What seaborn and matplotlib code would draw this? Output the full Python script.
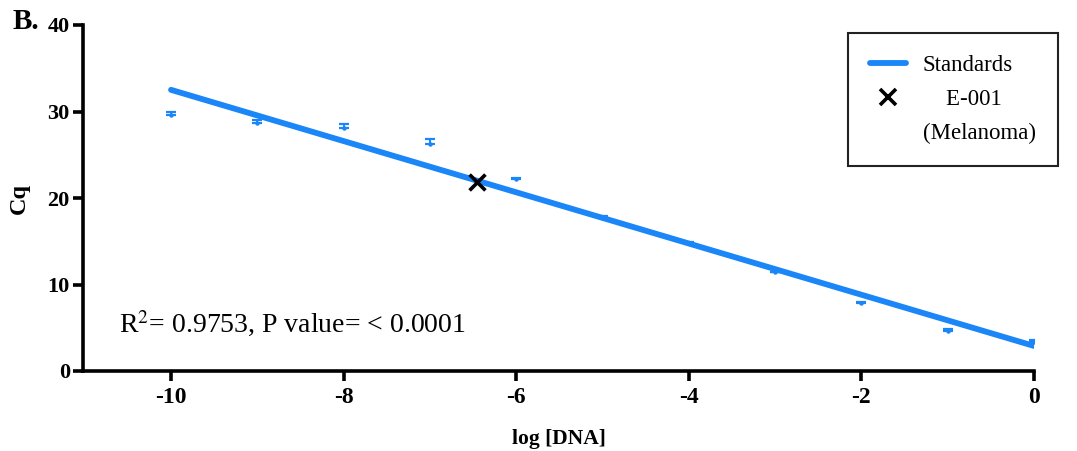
import numpy as np
import pandas as pd
import matplotlib
matplotlib.use("Agg")
import matplotlib.pyplot as plt
import seaborn as sns
from matplotlib.lines import Line2D

# ---- data ----
log_dna = [-10, -9, -8, -7, -6, -5, -4, -3, -2, -1, 0]
cq_mean = [29.6, 28.7, 28.1, 26.3, 22.2, 17.8, 14.8, 11.4, 7.9, 4.6, 3.3]
cq_sd = [0.35, 0.35, 0.4, 0.55, 0.1, 0.1, 0.1, 0.1, 0.1, 0.2, 0.3]
sample_x = [-6.46]
sample_cq = [21.85]
x_ticks = [-10, -8, -6, -4, -2, 0]
y_ticks = [0, 10, 20, 30, 40]
annotation = "R$^{2}$= 0.9753, P value= < 0.0001"
legend_labels = ["Standards", "    E-001", "(Melanoma)"]

blue = "#1a86f7"

sns.set_theme(style="white")
plt.rcParams["font.family"] = ["Liberation Serif", "DejaVu Serif"]
plt.rcParams["mathtext.fontset"] = "stix"
plt.rcParams["text.color"] = "black"
plt.rcParams["axes.labelcolor"] = "black"
plt.rcParams["xtick.color"] = "black"
plt.rcParams["ytick.color"] = "black"

df = pd.DataFrame({"log_dna": log_dna, "cq": cq_mean, "sd": cq_sd})

fig = plt.figure(figsize=(10.77, 4.51), dpi=100)
ax = fig.add_axes([83 / 1077, 1 - 371 / 451, (1034 - 83) / 1077, (371 - 25) / 451])

# standards: small markers with upper error bars
ax.errorbar(df["log_dna"], df["cq"], yerr=[np.zeros(len(df)), df["sd"]],
            fmt="o", ms=2.2, color=blue, ecolor=blue, elinewidth=1.4,
            capsize=3.5, capthick=1.6, zorder=2)

# regression line
sns.regplot(data=df, x="log_dna", y="cq", ax=ax, scatter=False, ci=None,
            truncate=True, line_kws=dict(color=blue, lw=4.2, solid_capstyle="round", zorder=3))

# sample
ax.scatter(sample_x, sample_cq, marker="x", s=130, color="black", linewidths=2.6, zorder=4)

ax.set_xlim(-11.02, 0)
ax.set_ylim(0, 40)
ax.set_xticks(x_ticks)
ax.set_yticks(y_ticks)
ax.set_xticklabels([str(t) for t in x_ticks], fontweight="bold", fontsize=17)
ax.set_yticklabels([str(t) for t in y_ticks], fontweight="bold", fontsize=16)
ax.set_xlabel("log [DNA]", fontweight="bold", fontsize=15.5, labelpad=15)
ax.set_ylabel("Cq", fontweight="bold", fontsize=17.5, labelpad=13)

for side in ["top", "right"]:
    ax.spines[side].set_visible(False)
for side in ["left", "bottom"]:
    ax.spines[side].set_linewidth(2.6)
    ax.spines[side].set_color("black")
ax.tick_params(axis="both", which="major", direction="out", length=7.5, width=2.6,
               color="black", labelcolor="black", bottom=True, left=True)
ax.tick_params(axis="x", pad=4)
ax.tick_params(axis="y", pad=2)
ax.set_clip_on(False)

ax.text(-10.6, 4.4, annotation, fontsize=20, ha="left", va="baseline", color="black")

fig.text(13 / 1077, 1 - 29 / 451, "B.", fontsize=21, fontweight="bold",
         ha="left", va="baseline", color="black")

handles = [Line2D([0], [0], color=blue, lw=4.2, solid_capstyle="round"),
           Line2D([0], [0], marker="x", color="black", lw=0, ms=11, mew=2.6),
           Line2D([0], [0], lw=0, alpha=0)]
leg = ax.legend(handles, legend_labels, loc="upper right",
                bbox_to_anchor=((1058 - 83) / 951, (371 - 33) / 346),
                borderaxespad=0, frameon=True, fancybox=False, fontsize=16.5,
                handlelength=1.57, handletextpad=0.74, borderpad=0.97,
                labelspacing=0.55, edgecolor="#222222", framealpha=1)
leg.get_frame().set_linewidth(1.5)
for t in leg.get_texts():
    t.set_color("black")

fig.savefig("out.png", dpi=100)
